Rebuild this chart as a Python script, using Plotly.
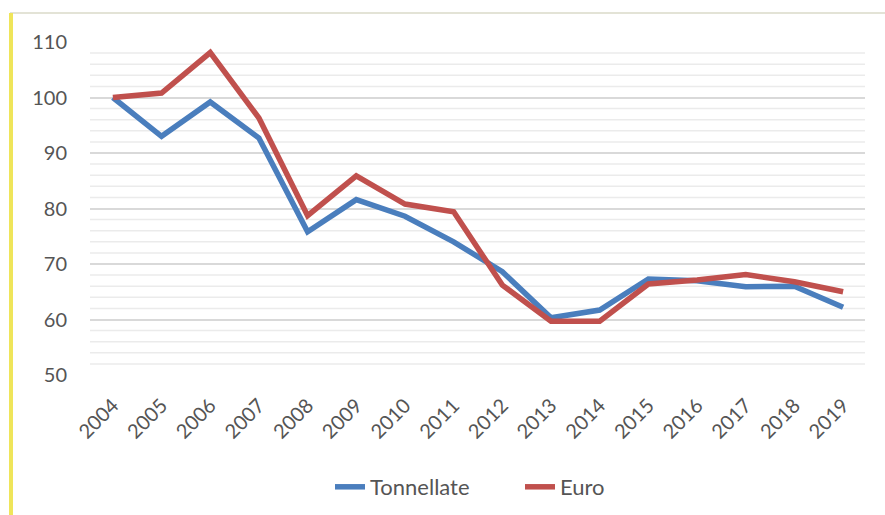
import plotly.graph_objects as go

years = ["2004", "2005", "2006", "2007", "2008", "2009", "2010", "2011",
         "2012", "2013", "2014", "2015", "2016", "2017", "2018", "2019"]
tonnellate = [100, 93.0, 99.2, 92.7, 75.8, 81.6, 78.6, 74.0,
              68.6, 60.3, 61.7, 67.3, 67.0, 65.9, 66.0, 62.2]
euro = [100, 100.8, 108.1, 96.3, 78.7, 85.9, 80.8, 79.4,
        66.2, 59.7, 59.7, 66.4, 67.1, 68.1, 66.8, 65.0]

y_major = [50, 60, 70, 80, 90, 100, 110]
y_minor = [v for v in range(50, 111, 2) if v % 10]

W, H = 885, 515
L, R, T, B = 90, 20, 42, 140

x = list(range(len(years)))

fig = go.Figure()
fig.add_trace(go.Scatter(x=x, y=tonnellate, name="Tonnellate", mode="lines",
                         line=dict(color="#4A7EBD", width=5.5)))
fig.add_trace(go.Scatter(x=x, y=euro, name="Euro", mode="lines",
                         line=dict(color="#C0504D", width=5.5)))

shapes = []
# minor gridlines
for v in y_minor:
    shapes.append(dict(type="line", xref="paper", yref="y", x0=0, x1=1, y0=v, y1=v,
                       line=dict(color="#EBEBEB", width=1.5), layer="below"))

# frame: yellow left edge and thin top edge
def px(xp):
    return (xp - L) / (W - L - R)

def py(yp):
    return 1 - (yp - T) / (H - T - B)

shapes.append(dict(type="line", xref="paper", yref="paper", x0=px(10), x1=px(W + 5),
                   y0=py(13), y1=py(13), line=dict(color="#DADAC8", width=1.5)))
shapes.append(dict(type="line", xref="paper", yref="paper", x0=px(11), x1=px(11),
                   y0=py(13), y1=py(H + 5), line=dict(color="#EFE55A", width=4)))

fig.update_layout(
    width=W, height=H,
    margin=dict(l=L, r=R, t=T, b=B, autoexpand=False),
    paper_bgcolor="white", plot_bgcolor="white",
    font=dict(family="Lato, Carlito, sans-serif", color="#555555", size=20),
    showlegend=True,
    legend=dict(orientation="h", xref="container", yref="container",
                x=330 / W, xanchor="left", y=(H - 487) / H, yanchor="middle",
                entrywidth=145, entrywidthmode="pixels",
                font=dict(size=22, color="#555555")),
    xaxis=dict(tickmode="array", tickvals=x, ticktext=years, tickangle=-45,
               range=[-0.47, 15.45], showgrid=False, zeroline=False,
               showline=False, ticks="", tickfont=dict(size=20),
               ticklabelstandoff=14, automargin=False),
    yaxis=dict(range=[50, 110], tickvals=y_major, showgrid=True,
               gridcolor="#D9D9D9", gridwidth=2, zeroline=False, showline=False,
               ticks="", tickfont=dict(size=20), ticklabelstandoff=22,
               automargin=False),
    shapes=shapes,
)

fig.write_html("out.html")
